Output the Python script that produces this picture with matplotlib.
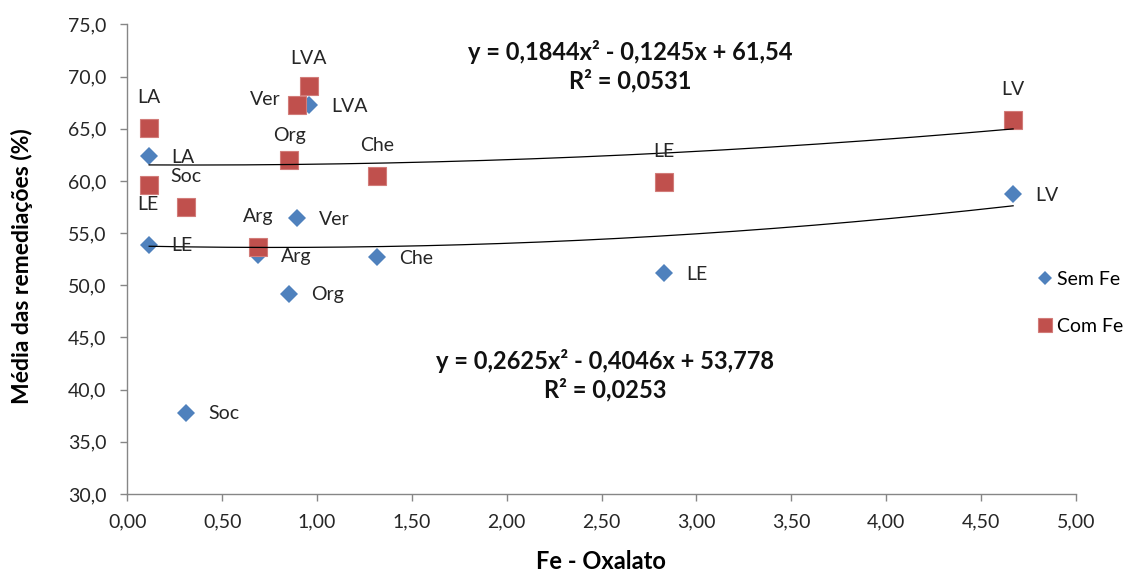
import numpy as np
import matplotlib
matplotlib.use('Agg')
import matplotlib.pyplot as plt
from matplotlib.ticker import FuncFormatter, MultipleLocator

plt.rcParams['font.family'] = ['Lato', 'DejaVu Sans']

# soil names and Fe-oxalate values
solos = ['LA', 'LE', 'Soc', 'Arg', 'Org', 'Ver', 'LVA', 'Che', 'LE', 'LV']
fe_oxalato = [0.115, 0.115, 0.31, 0.69, 0.853, 0.893, 0.957, 1.316, 2.83, 4.67]

# mean remediation (%)
sem_fe = [62.4, 53.9, 37.8, 52.9, 49.2, 56.4, 67.3, 52.7, 51.2, 58.7]
com_fe = [65.1, 59.6, 57.5, 53.7, 62.0, 67.3, 69.1, 60.5, 59.9, 65.8]

# trendline coefficients (a, b, c) and R2 shown in the chart
coef_sem = [0.2625, -0.4046, 53.778]
coef_com = [0.1844, -0.1245, 61.54]
r2_sem = 0.0253
r2_com = 0.0531

azul = '#4F81BD'
vermelho = '#C0504D'
cinza = '#868686'
texto = '#262626'

fig = plt.figure(figsize=(11.29, 5.75), dpi=100)
ax = fig.add_axes([0.1128, 0.1409, 0.84, 0.8168])

ax.plot(fe_oxalato, sem_fe, 'D', color=azul, markersize=9.5, markeredgewidth=0,
        label='Sem Fe', zorder=3)
ax.plot(fe_oxalato, com_fe, 's', color=vermelho, markersize=13.5,
        markeredgecolor='#d27c79', markeredgewidth=0.8, label='Com Fe', zorder=4)

xs = np.linspace(min(fe_oxalato), max(fe_oxalato), 200)
ax.plot(xs, np.polyval(coef_sem, xs), color='black', lw=0.9, zorder=5)
ax.plot(xs, np.polyval(coef_com, xs), color='black', lw=0.9, zorder=5)

# data labels
for i, nome in enumerate(solos):
    ax.annotate(nome, (fe_oxalato[i], sem_fe[i]), xytext=(16, -1),
                textcoords='offset points', ha='left', va='center',
                fontsize=14, color=texto, zorder=6)

for i, nome in enumerate(solos):
    dx, dy = 0, 22
    if i == 1:
        dx, dy = -1, -14
    elif i == 5:
        dx, dy = -23, 4
    elif i == 4:
        dy = 18
    elif i == 6:
        dy = 20
    ax.annotate(nome, (fe_oxalato[i], com_fe[i]), xytext=(dx, dy),
                textcoords='offset points', ha='center', va='center',
                fontsize=14, color=texto, zorder=6)


def fmt(v, n):
    return f'{v:.{n}f}'.replace('.', ',')


def eq_text(c, r2):
    a, b, k = c
    sinal = '-' if b < 0 else '+'
    return (f'y = {fmt(a, 4)}x² {sinal} {fmt(abs(b), 4)}x + {str(k).replace(".", ",")}\n'
            f'R² = {fmt(r2, 4)}')


ax.text(2.65, 70.96, eq_text(coef_com, r2_com), ha='center', va='center',
        fontsize=17, fontweight='bold', linespacing=1.25, color='#111111')
ax.text(2.52, 41.4, eq_text(coef_sem, r2_sem), ha='center', va='center',
        fontsize=17, fontweight='bold', linespacing=1.25, color='#111111')

ax.set_xlim(0, 5)
ax.set_ylim(30, 75)
ax.xaxis.set_major_locator(MultipleLocator(0.5))
ax.yaxis.set_major_locator(MultipleLocator(5))
ax.xaxis.set_major_formatter(FuncFormatter(lambda v, p: fmt(v, 2)))
ax.yaxis.set_major_formatter(FuncFormatter(lambda v, p: fmt(v, 1)))

for s in ['top', 'right']:
    ax.spines[s].set_visible(False)
for s in ['left', 'bottom']:
    ax.spines[s].set_color(cinza)
    ax.spines[s].set_linewidth(1)
ax.tick_params(axis='both', colors=cinza, labelcolor=texto, labelsize=14,
               length=5, width=1, direction='out')
ax.tick_params(axis='x', pad=9)
ax.tick_params(axis='y', pad=10)

ax.set_xlabel('Fe - Oxalato', fontsize=17, fontweight='bold')
ax.xaxis.set_label_coords(0.4995, -0.12)
ax.set_ylabel('Média das remediações (%)', fontsize=16.5, fontweight='bold')
ax.yaxis.set_label_coords(-0.1, 0.485)

ax.legend(loc='center left', bbox_to_anchor=(1022 / 1129, 1 - 303 / 575),
          bbox_transform=fig.transFigure, frameon=False, fontsize=14,
          handlelength=0.6, handletextpad=0.3, labelspacing=1.55,
          markerscale=0.7)

fig.savefig('out.png', dpi=100)
